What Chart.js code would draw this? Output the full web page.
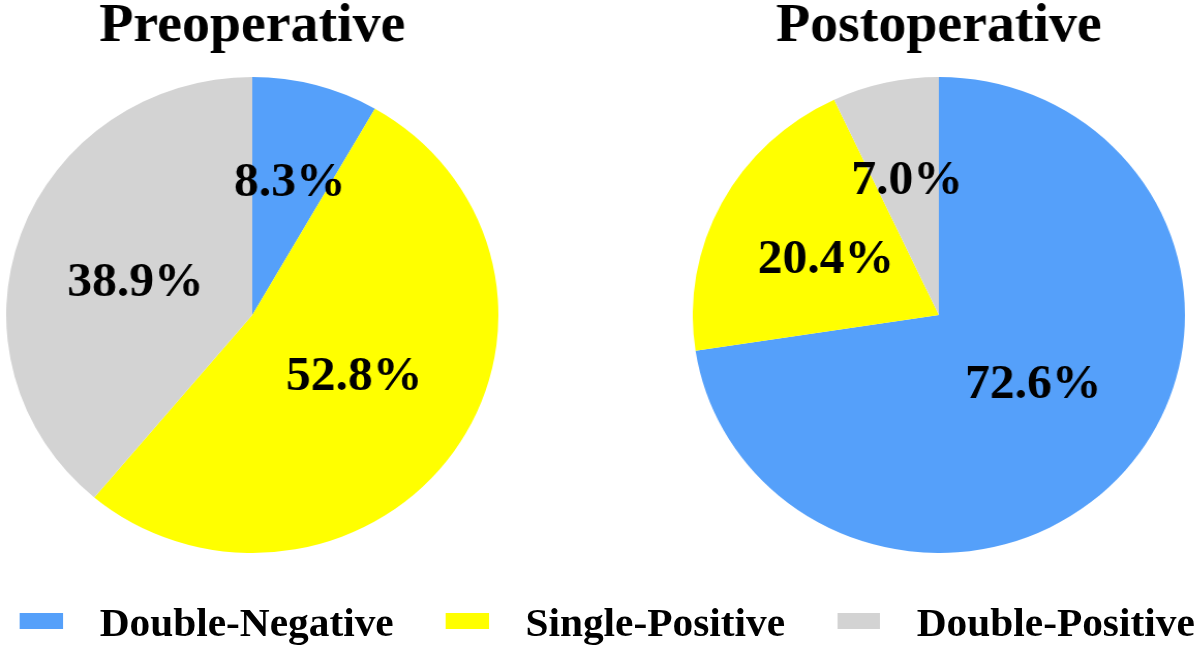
<!DOCTYPE html>
<html>
<head>
<meta charset="utf-8">
<script src="https://cdn.jsdelivr.net/npm/chart.js@4/dist/chart.umd.min.js"></script>
<style>
  html, body { margin: 0; padding: 0; background: #fff; overflow: hidden; }
  #page {
    position: relative;
    width: 1160.5px; height: 650px;
    transform: scaleX(1.034); transform-origin: 0 0;
    font-family: "Liberation Serif", "Times New Roman", serif;
  }
  canvas { position: absolute; top: 0; }
  #pre { left: 5.7px; }
  #post { left: 670.1px; }
  #legend {
    position: absolute; left: 19.3px; right: 5px; top: 600px; height: 45px;
    display: flex; justify-content: space-between; align-items: center;
  }
  .item { display: flex; align-items: center; }
  .box { width: 41.6px; height: 16px; margin-right: 35.5px; margin-top: -4px; }
  .txt { font-weight: bold; font-size: 40px; line-height: 45px; color: #000; white-space: nowrap; }
</style>
</head>
<body>
<div id="page">
  <canvas id="pre" width="476" height="553"></canvas>
  <canvas id="post" width="476" height="553"></canvas>
  <div id="legend"></div>
</div>
<script>
const categories = ['Double-Negative', 'Single-Positive', 'Double-Positive']
const colors = ['#55a0fa', '#ffff00', '#d3d3d3']
const preValues = [8.3, 52.8, 38.9]
const postValues = [72.6, 20.4, 7.0]
const titles = ['Preoperative', 'Postoperative']

const FONT = '"Liberation Serif", "Times New Roman", serif'
const LABEL_SIZE = 48

// percentage text inside each slice; thin slices get it further out,
// wide ones sit on a slightly flattened ring like the original
const sliceLabels = {
  id: 'sliceLabels',
  afterDatasetsDraw(chart) {
    const ctx = chart.ctx
    const values = chart.data.datasets[0].data
    ctx.save()
    ctx.font = 'bold ' + LABEL_SIZE + 'px ' + FONT
    ctx.fillStyle = '#000'
    ctx.textAlign = 'center'
    ctx.textBaseline = 'alphabetic'
    chart.getDatasetMeta(0).data.forEach((arc, i) => {
      const p = arc.getProps(['x', 'y', 'startAngle', 'endAngle', 'outerRadius'], true)
      const mid = (p.startAngle + p.endAngle) / 2
      const v = values[i]
      let fx, fy
      if (v < 10) { fx = fy = 0.59 }
      else if (v < 25) { fx = fy = 0.52 }
      else { fx = 0.505; fy = 0.43 }
      const x = p.x + Math.cos(mid) * p.outerRadius * fx
      const y = p.y + Math.sin(mid) * p.outerRadius * fy
      ctx.fillText(v.toFixed(1) + '%', x, y + LABEL_SIZE * 0.338)
    })
    ctx.restore()
  }
}

function makePie(id, title, values) {
  return new Chart(document.getElementById(id), {
    type: 'pie',
    data: {
      labels: categories,
      datasets: [{ data: values, backgroundColor: colors, borderWidth: 0 }]
    },
    options: {
      responsive: false,
      animation: false,
      layout: { padding: 0 },
      plugins: {
        legend: { display: false },
        tooltip: { enabled: false },
        title: {
          display: true,
          text: title,
          color: '#000',
          font: { family: FONT, size: 54, weight: 'bold', lineHeight: 1 },
          padding: { top: 0, bottom: 23 }
        }
      }
    },
    plugins: [sliceLabels]
  })
}

makePie('pre', titles[0], preValues)
makePie('post', titles[1], postValues)

const legend = document.getElementById('legend')
categories.forEach((name, i) => {
  const item = document.createElement('div')
  item.className = 'item'
  const box = document.createElement('span')
  box.className = 'box'
  box.style.background = colors[i]
  const txt = document.createElement('span')
  txt.className = 'txt'
  txt.textContent = name
  item.appendChild(box)
  item.appendChild(txt)
  legend.appendChild(item)
})
</script>
</body>
</html>
